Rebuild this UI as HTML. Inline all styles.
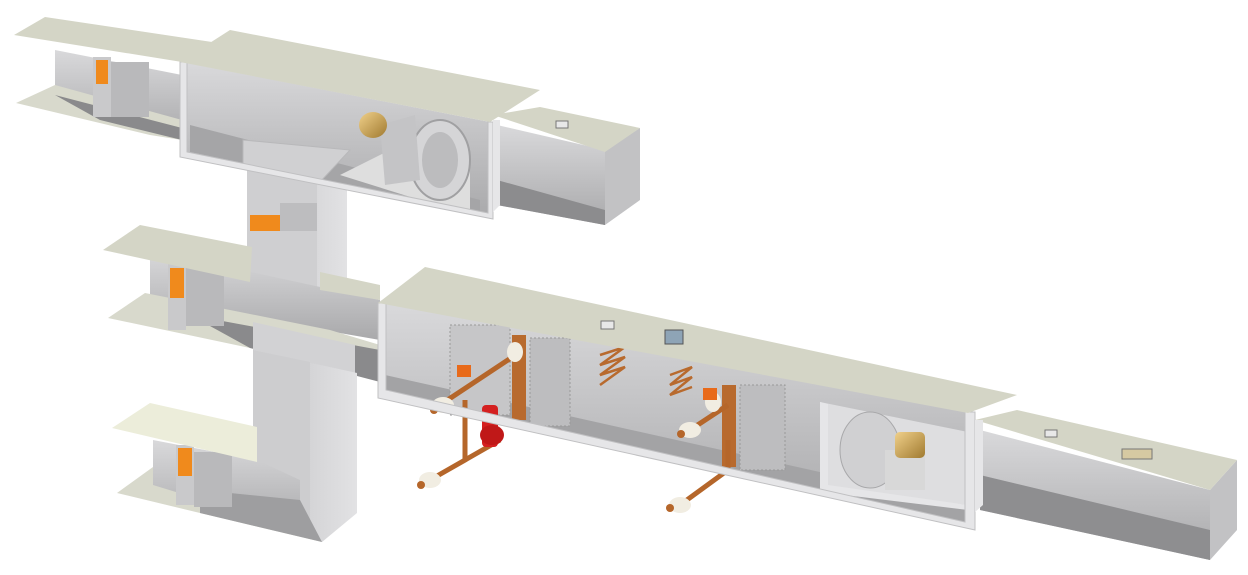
<!DOCTYPE html>
<html><head><meta charset="utf-8"><style>
html,body{margin:0;padding:0;background:#fff;width:1248px;height:575px;overflow:hidden}
svg{display:block}
</style></head><body>
<svg width="1248" height="575" viewBox="0 0 1248 575" xmlns="http://www.w3.org/2000/svg">
<defs>
<linearGradient id="wall" x1="0" y1="0" x2="0" y2="1"><stop offset="0" stop-color="#d9d9db"/><stop offset="1" stop-color="#a9a9ab"/></linearGradient>
<linearGradient id="side" x1="0" y1="0" x2="1" y2="0"><stop offset="0" stop-color="#c4c4c6"/><stop offset="1" stop-color="#e2e2e4"/></linearGradient>
<linearGradient id="gold" x1="0" y1="0" x2="1" y2="1"><stop offset="0" stop-color="#f0d08a"/><stop offset="1" stop-color="#a07a30"/></linearGradient>
</defs>

<!-- ===== Top-left duct ===== -->
<polygon points="55,50 182,75 182,140 55,105" fill="url(#wall)"/>
<polygon points="16,103 55,85 182,120 182,140 150,135" fill="#d8d9cc"/>
<polygon points="55,95 182,128 182,140 100,120" fill="#8a8a8c"/>
<rect x="93" y="57" width="18" height="60" fill="#c9c9cb"/>
<rect x="96" y="60" width="12" height="24" fill="#f08a1c"/>
<rect x="111" y="62" width="38" height="55" fill="#b9b9bb"/>
<polygon points="14,35 45,17 232,45 182,62" fill="#d4d5c6"/>

<!-- ===== Vertical duct (upper) ===== -->
<rect x="247" y="165" width="100" height="130" fill="url(#side)"/>
<rect x="247" y="165" width="70" height="130" fill="#cfcfd1"/>
<rect x="250" y="215" width="30" height="16" fill="#f08a1c"/>
<rect x="280" y="203" width="37" height="28" fill="#bdbdbf"/>

<!-- ===== Top main unit ===== -->
<polygon points="182,62 490,122 490,218 182,157" fill="url(#wall)"/>
<polygon points="190,125 480,200 480,212 190,152" fill="#a5a5a7"/>
<polygon points="243,140 350,150 320,182 243,168" fill="#d0d0d2" stroke="#b8b8ba"/>
<polygon points="340,175 410,140 470,150 470,210 420,200" fill="#dedede"/>
<ellipse cx="440" cy="160" rx="30" ry="40" fill="#d5d5d7" stroke="#a0a0a2" stroke-width="2"/>
<ellipse cx="440" cy="160" rx="18" ry="28" fill="#bcbcbe"/>
<polygon points="380,125 415,115 420,180 385,185" fill="#c4c4c6"/>
<ellipse cx="373" cy="125" rx="14" ry="13" fill="url(#gold)"/>
<polygon points="180,62 187,62 187,152 488,213 488,122 493,122 493,219 180,157" fill="#e6e6e8" stroke="#c0c0c2"/>
<polygon points="180,62 230,30 540,90 490,122" fill="#d4d5c6"/>

<!-- ===== Top right duct ===== -->
<polygon points="497,125 605,150 605,225 497,205" fill="url(#wall)"/>
<polygon points="497,180 605,210 605,225 497,205" fill="#8c8c8e"/>
<polygon points="605,150 640,128 640,200 605,225" fill="#c2c2c4"/>
<polygon points="493,115 540,107 640,128 605,152" fill="#d4d5c6"/>
<rect x="556" y="121" width="12" height="7" fill="#e8e8e8" stroke="#777"/>
<polygon points="493,120 500,120 500,205 493,212" fill="#e6e6e8"/>

<!-- ===== Middle-left duct + connector ===== -->
<polygon points="150,250 380,300 380,340 150,300" fill="url(#wall)"/>
<polygon points="108,318 145,293 330,330 380,345 380,380 250,348" fill="#d8d9cc"/>
<polygon points="190,315 380,350 380,382 250,348" fill="#8a8a8c"/>
<rect x="168" y="264" width="18" height="66" fill="#c9c9cb"/>
<rect x="170" y="268" width="14" height="30" fill="#f08a1c"/>
<rect x="186" y="268" width="38" height="58" fill="#b9b9bb"/>
<polygon points="103,250 140,225 252,247 250,282" fill="#d4d5c6"/>
<polygon points="320,272 380,285 380,300 320,290" fill="#d4d5c6"/>

<!-- ===== Lower vertical duct + lower-left duct ===== -->
<polygon points="253,322 355,345 355,373 253,350" fill="#d2d2d4"/>
<polygon points="253,350 357,373 357,513 322,542 253,520" fill="url(#side)"/>
<polygon points="253,350 310,362 310,530 253,520" fill="#cdcdcf"/>
<polygon points="117,493 153,467 260,490 322,542 200,513" fill="#d8d9cc"/>
<polygon points="153,440 257,460 300,480 300,530 153,485" fill="url(#wall)"/>
<polygon points="200,490 300,500 322,542 200,513" fill="#9e9ea0"/>
<rect x="176" y="445" width="18" height="60" fill="#c9c9cb"/>
<rect x="178" y="448" width="14" height="28" fill="#f08a1c"/>
<rect x="194" y="452" width="38" height="55" fill="#b9b9bb"/>
<polygon points="112,428 150,403 257,427 257,462" fill="#ecedda"/>

<!-- ===== Lower main unit ===== -->
<polygon points="380,303 968,412 968,528 380,395" fill="url(#wall)"/>
<polygon points="385,375 968,505 968,528 380,395" fill="#a3a3a5"/>
<rect x="450" y="325" width="60" height="90" fill="#c6c6c8" stroke="#999" stroke-dasharray="2 2"/>
<rect x="530" y="338" width="40" height="88" fill="#bdbdbf" stroke="#999" stroke-dasharray="2 2"/>
<rect x="740" y="385" width="45" height="85" fill="#bdbdbf" stroke="#999" stroke-dasharray="2 2"/>
<rect x="512" y="335" width="14" height="85" fill="#b86a2e"/>
<rect x="722" y="385" width="14" height="82" fill="#b86a2e"/>
<path d="M600,355 l25,-8 l-25,18 l25,-8 l-25,18 l25,-8 l-25,18 M670,375 l22,-8 l-22,18 l22,-8 l-22,18 l22,-8" stroke="#b86a2e" stroke-width="2.5" fill="none"/>
<path d="M440,405 L520,352 M465,400 L465,460 L430,480 M465,460 L500,440" stroke="#b5662a" stroke-width="5" fill="none"/>
<path d="M690,430 L728,405 M728,440 L728,470 L680,505" stroke="#b5662a" stroke-width="5" fill="none"/>
<ellipse cx="443" cy="405" rx="11" ry="8" fill="#f1ede2"/><circle cx="434" cy="410" r="4" fill="#b5662a"/>
<ellipse cx="515" cy="352" rx="8" ry="10" fill="#f1ede2"/>
<ellipse cx="430" cy="480" rx="11" ry="8" fill="#f1ede2"/><circle cx="421" cy="485" r="4" fill="#b5662a"/>
<ellipse cx="690" cy="430" rx="11" ry="8" fill="#f1ede2"/><circle cx="681" cy="434" r="4" fill="#b5662a"/>
<ellipse cx="713" cy="402" rx="8" ry="10" fill="#f1ede2"/>
<ellipse cx="680" cy="505" rx="11" ry="8" fill="#f1ede2"/><circle cx="670" cy="508" r="4" fill="#b5662a"/>
<rect x="457" y="365" width="14" height="12" fill="#e86a1a"/>
<rect x="703" y="388" width="14" height="12" fill="#e86a1a"/>
<rect x="482" y="405" width="16" height="42" rx="4" fill="#d42020"/>
<ellipse cx="492" cy="435" rx="12" ry="10" fill="#c01818"/>
<polygon points="820,402 968,432 968,505 820,488" fill="#dedee0"/>
<ellipse cx="870" cy="450" rx="30" ry="38" fill="#d0d0d2" stroke="#a8a8aa"/>
<rect x="885" y="450" width="40" height="40" fill="#d8d8d8"/>
<rect x="895" y="432" width="30" height="26" rx="5" fill="url(#gold)"/>
<polygon points="820,402 828,404 828,485 968,505 968,510 820,492" fill="#e6e6e8"/>
<polygon points="378,303 386,303 386,390 965,522 965,412 975,412 975,530 378,398" fill="#e6e6e8" stroke="#c0c0c2"/>
<polygon points="378,303 425,267 1017,395 968,413" fill="#d4d5c6"/>
<rect x="601" y="321" width="13" height="8" fill="#e8e8e8" stroke="#777"/>
<rect x="665" y="330" width="18" height="14" fill="#8ea4b6" stroke="#555"/>

<!-- ===== Lower right duct ===== -->
<polygon points="980,430 1210,490 1210,560 980,510" fill="url(#wall)"/>
<polygon points="980,475 1210,530 1210,560 980,510" fill="#8e8e90"/>
<polygon points="1210,490 1237,460 1237,530 1210,560" fill="#c2c2c4"/>
<polygon points="975,420 1017,410 1237,460 1210,490" fill="#d4d5c6"/>
<rect x="1045" y="430" width="12" height="7" fill="#e8e8e8" stroke="#777"/>
<rect x="1122" y="449" width="30" height="10" fill="#d6c9a2" stroke="#777"/>
<polygon points="975,420 983,420 983,505 975,512" fill="#e6e6e8"/>
</svg>
</body></html>
